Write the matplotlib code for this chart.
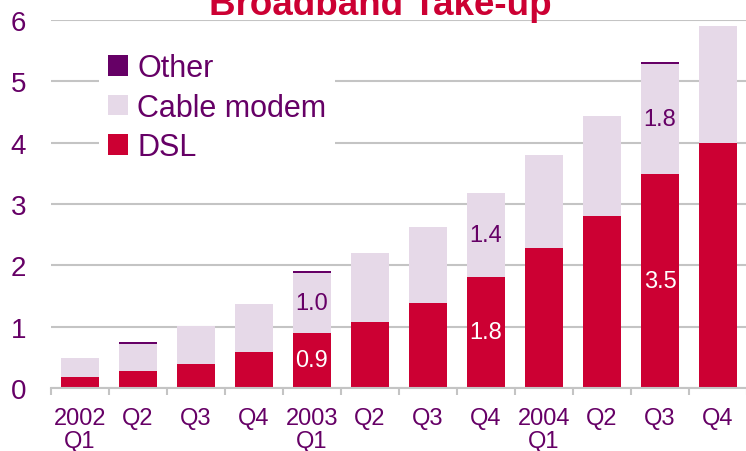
import numpy as np
import matplotlib
matplotlib.use('Agg')
import matplotlib.pyplot as plt

plt.rcParams['font.family'] = ['Liberation Sans', 'DejaVu Sans']

# Quarterly broadband take-up (millions)
quarters = ['2002\nQ1', 'Q2', 'Q3', 'Q4', '2003\nQ1', 'Q2', 'Q3', 'Q4',
            '2004\nQ1', 'Q2', 'Q3', 'Q4']
dsl = [0.18, 0.28, 0.39, 0.59, 0.90, 1.08, 1.39, 1.81, 2.28, 2.81, 3.49, 3.99]
cable = [0.31, 0.44, 0.62, 0.78, 0.98, 1.12, 1.24, 1.37, 1.52, 1.63, 1.80, 1.92]
other = [0.0, 0.03, 0.0, 0.0, 0.03, 0.0, 0.0, 0.0, 0.0, 0.0, 0.03, 0.0]
dsl_labels = ['', '', '', '', '0.9', '', '', '1.8', '', '', '3.5', '']
cable_labels = ['', '', '', '', '1.0', '', '', '1.4', '', '', '1.8', '']

RED = '#CC0033'
LILAC = '#E6D9E8'
PURPLE = '#660066'
GREY = '#C4C4C4'

fig = plt.figure(figsize=(7.46, 4.52), dpi=100)
ax = fig.add_axes([51/746, 1 - 389/452, 696/746, 368/452])

x = np.arange(len(quarters))
w = 0.67
b1 = ax.bar(x, dsl, w, color=RED, label='DSL')
b2 = ax.bar(x, cable, w, bottom=dsl, color=LILAC, label='Cable modem')
base = np.array(dsl) + np.array(cable)
b3 = ax.bar(x, other, w, bottom=base, color=PURPLE, label='Other')

ax.bar_label(b1, labels=dsl_labels, label_type='center', color='white', fontsize=17)
ax.bar_label(b2, labels=cable_labels, label_type='center', color=PURPLE, fontsize=17)

ax.set_xlim(-0.5, len(quarters) - 0.5)
ax.set_ylim(0, 6)
ax.set_yticks(range(7))
ax.yaxis.grid(True, color=GREY, lw=1.5)
ax.set_axisbelow(True)

for s in ['top', 'right', 'left']:
    ax.spines[s].set_visible(False)
ax.spines['bottom'].set_color(GREY)
ax.spines['bottom'].set_linewidth(1.5)

ax.set_xticks(x)
ax.set_xticklabels(quarters, linespacing=1.02)
ax.set_xticks(np.arange(-0.5, len(quarters)), minor=True)
ax.tick_params(axis='x', which='major', length=0, pad=14, labelsize=17, labelcolor=PURPLE)
ax.tick_params(axis='x', which='minor', length=5, width=1.5, color=GREY)
ax.tick_params(axis='y', length=0, pad=18, labelsize=20, labelcolor=PURPLE)

handles = [b3, b2, b1]
leg = ax.legend(handles, [h.get_label() for h in handles],
                loc='upper left', bbox_to_anchor=(99/746, 1 - 45/452),
                bbox_transform=fig.transFigure, fontsize=22,
                frameon=True, facecolor='white', edgecolor='none', framealpha=1,
                fancybox=False, borderpad=0.3, borderaxespad=0,
                handlelength=0.65, handleheight=0.65, handletextpad=0.3,
                labelspacing=0.31)
for t in leg.get_texts():
    t.set_color(PURPLE)

fig.text(380/746, 1 - 15/452, 'Broadband Take-up', ha='center', va='baseline',
         fontsize=26.5, fontweight='bold', color=RED)

fig.savefig('out.png', dpi=100)
